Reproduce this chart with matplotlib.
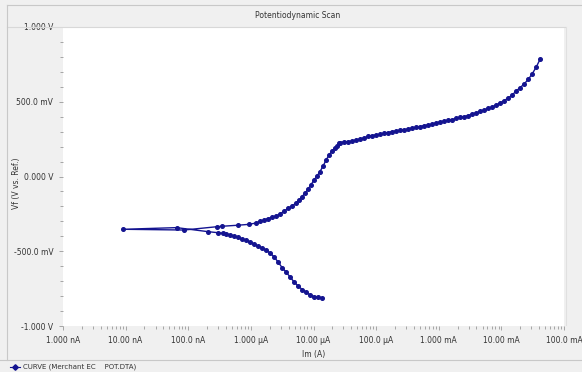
import numpy as np
import matplotlib

matplotlib.use("Agg")
from matplotlib import pyplot as plt
from matplotlib.ticker import FixedLocator, FixedFormatter, MultipleLocator, LogLocator, NullFormatter
from matplotlib.lines import Line2D

# cathodic branch, from -0.8 V up to Ecorr (current in A, potential in V)
cath_i = [1.36e-5, 1.18e-5, 1.02e-5, 8.83e-6, 7.62e-6, 6.58e-6, 5.68e-6, 4.90e-6,
          4.23e-6, 3.65e-6, 3.15e-6, 2.72e-6, 2.35e-6, 2.03e-6, 1.75e-6, 1.51e-6,
          1.30e-6, 1.12e-6, 9.70e-7, 8.37e-7, 7.22e-7, 6.25e-7, 5.40e-7, 4.66e-7,
          4.02e-7, 3.60e-7, 2.99e-7, 2.07e-7]
cath_v = [-0.813, -0.809, -0.803, -0.793, -0.773, -0.756, -0.732, -0.706,
          -0.672, -0.639, -0.609, -0.572, -0.538, -0.512, -0.492, -0.478,
          -0.465, -0.452, -0.438, -0.428, -0.418, -0.408, -0.398, -0.391,
          -0.385, -0.380, -0.376, -0.369]

# points around the corrosion potential
corr_i = [6.54e-8, 9.18e-9, 8.57e-8]
corr_v = [-0.342, -0.353, -0.358]

# anodic branch up to +0.79 V
anod_i = [2.85e-7, 3.43e-7, 6.18e-7, 9.35e-7, 1.21e-6, 1.40e-6, 1.63e-6, 1.88e-6,
          2.18e-6, 2.53e-6, 2.92e-6, 3.39e-6, 3.93e-6, 4.55e-6, 5.27e-6, 5.89e-6,
          6.58e-6, 7.35e-6, 8.20e-6, 9.16e-6, 1.02e-5, 1.14e-5, 1.27e-5, 1.42e-5,
          1.59e-5, 1.77e-5, 1.98e-5, 2.21e-5, 2.38e-5, 2.56e-5,
          2.66e-5, 3.08e-5, 3.57e-5, 4.14e-5, 4.80e-5, 5.55e-5, 6.43e-5, 7.45e-5,
          8.63e-5, 1.00e-4, 1.16e-4, 1.34e-4, 1.56e-4, 1.80e-4, 2.08e-4, 2.42e-4,
          2.80e-4, 3.24e-4, 3.76e-4, 4.36e-4, 5.05e-4, 5.85e-4, 6.78e-4, 7.85e-4,
          9.08e-4, 1.05e-3, 1.22e-3, 1.41e-3, 1.64e-3, 1.90e-3, 2.20e-3, 2.55e-3,
          2.95e-3, 3.42e-3, 3.95e-3, 4.58e-3, 5.31e-3, 6.15e-3, 7.13e-3, 8.26e-3,
          9.57e-3, 1.11e-2, 1.29e-2, 1.49e-2, 1.72e-2, 2.00e-2, 2.31e-2, 2.68e-2,
          3.10e-2, 3.60e-2, 4.17e-2]
anod_v = [-0.336, -0.333, -0.326, -0.320, -0.311, -0.301, -0.291, -0.281,
          -0.274, -0.264, -0.251, -0.231, -0.214, -0.197, -0.177, -0.157,
          -0.134, -0.110, -0.084, -0.054, -0.023, 0.003, 0.033, 0.070,
          0.110, 0.144, 0.171, 0.191, 0.204, 0.221,
          0.227, 0.231, 0.234, 0.237, 0.244, 0.251, 0.258, 0.268,
          0.274, 0.278, 0.281, 0.288, 0.294, 0.301, 0.304, 0.308,
          0.311, 0.318, 0.324, 0.328, 0.334, 0.341, 0.344, 0.351,
          0.358, 0.365, 0.371, 0.375, 0.381, 0.388, 0.395, 0.401,
          0.408, 0.418, 0.425, 0.435, 0.445, 0.455, 0.465, 0.478,
          0.492, 0.508, 0.525, 0.545, 0.572, 0.595, 0.619, 0.649,
          0.686, 0.732, 0.786]

x_ticks = [1e-9, 1e-8, 1e-7, 1e-6, 1e-5, 1e-4, 1e-3, 1e-2, 1e-1]
x_labels = ["1.000 nA", "10.00 nA", "100.0 nA", "1.000 \u00b5A", "10.00 \u00b5A",
            "100.0 \u00b5A", "1.000 mA", "10.00 mA", "100.0 mA"]
y_ticks = [-1.0, -0.5, 0.0, 0.5, 1.0]
y_labels = ["-1.000 V", "-500.0 mV", "0.000 V", "500.0 mV", "1.000 V"]

W, H = 582, 372
bg = "#f0f0f0"
txt = "#333333"
curve_col = "#141490"

fig = plt.figure(figsize=(W / 100, H / 100), dpi=100, facecolor=bg)
ax = fig.add_axes([63 / W, 46 / H, 501 / W, 299 / H])
ax.set_facecolor("white")

cur = cath_i + corr_i + anod_i
pot = cath_v + corr_v + anod_v
ax.plot(cur, pot, color=curve_col, lw=1.0, marker="o", ms=2.6, mec=curve_col, mfc=curve_col)

ax.set_xscale("log")
ax.set_xlim(1e-9, 1e-1)
ax.set_ylim(-1.0, 1.0)

ax.xaxis.set_major_locator(FixedLocator(x_ticks))
ax.xaxis.set_major_formatter(FixedFormatter(x_labels))
ax.xaxis.set_minor_locator(LogLocator(base=10, subs=np.arange(2, 10)))
ax.xaxis.set_minor_formatter(NullFormatter())
ax.yaxis.set_major_locator(FixedLocator(y_ticks))
ax.yaxis.set_major_formatter(FixedFormatter(y_labels))
ax.yaxis.set_minor_locator(MultipleLocator(0.1))

ax.tick_params(axis="both", which="both", direction="out", color="#999999",
               labelsize=5.5, labelcolor=txt, width=0.6)
ax.tick_params(axis="both", which="major", length=3, pad=4)
ax.tick_params(axis="both", which="minor", length=2)
for s in ax.spines.values():
    s.set_visible(False)

ax.set_xlabel("Im (A)", fontsize=5.5, color=txt, labelpad=4)
fig.text(17 / W, 1 - 183 / H, "Vf (V vs. Ref.)", rotation=90, fontsize=5.5,
         color=txt, ha="center", va="center")
fig.text(298 / W, 1 - 15 / H, "Potentiodynamic Scan", fontsize=5.5, color=txt,
         ha="center", va="center")

# window frame lines
def hline(y, x0, x1, c="#c8c8c8"):
    fig.add_artist(Line2D([x0 / W, x1 / W], [1 - y / H, 1 - y / H], color=c, lw=0.8))

def vline(x, y0, y1, c="#c8c8c8"):
    fig.add_artist(Line2D([x / W, x / W], [1 - y0 / H, 1 - y1 / H], color=c, lw=0.8))

hline(5, 7, W)
hline(26.5, 7, 565, "#d8d8d8")
hline(360, 0, W)
vline(7, 5, 360)
vline(565.5, 27, 325, "#e0e0e0")

# legend entry
fig.add_artist(Line2D([10 / W, 20 / W], [1 - 367 / H, 1 - 367 / H], color=curve_col, lw=0.8))
fig.add_artist(Line2D([15 / W], [1 - 367 / H], color=curve_col, marker="D", ms=2.8, lw=0))
fig.text(23 / W, 1 - 367 / H, "CURVE (Merchant EC    POT.DTA)", fontsize=5,
         color=txt, ha="left", va="center")

fig.savefig("out.png", dpi=100, facecolor=bg)
